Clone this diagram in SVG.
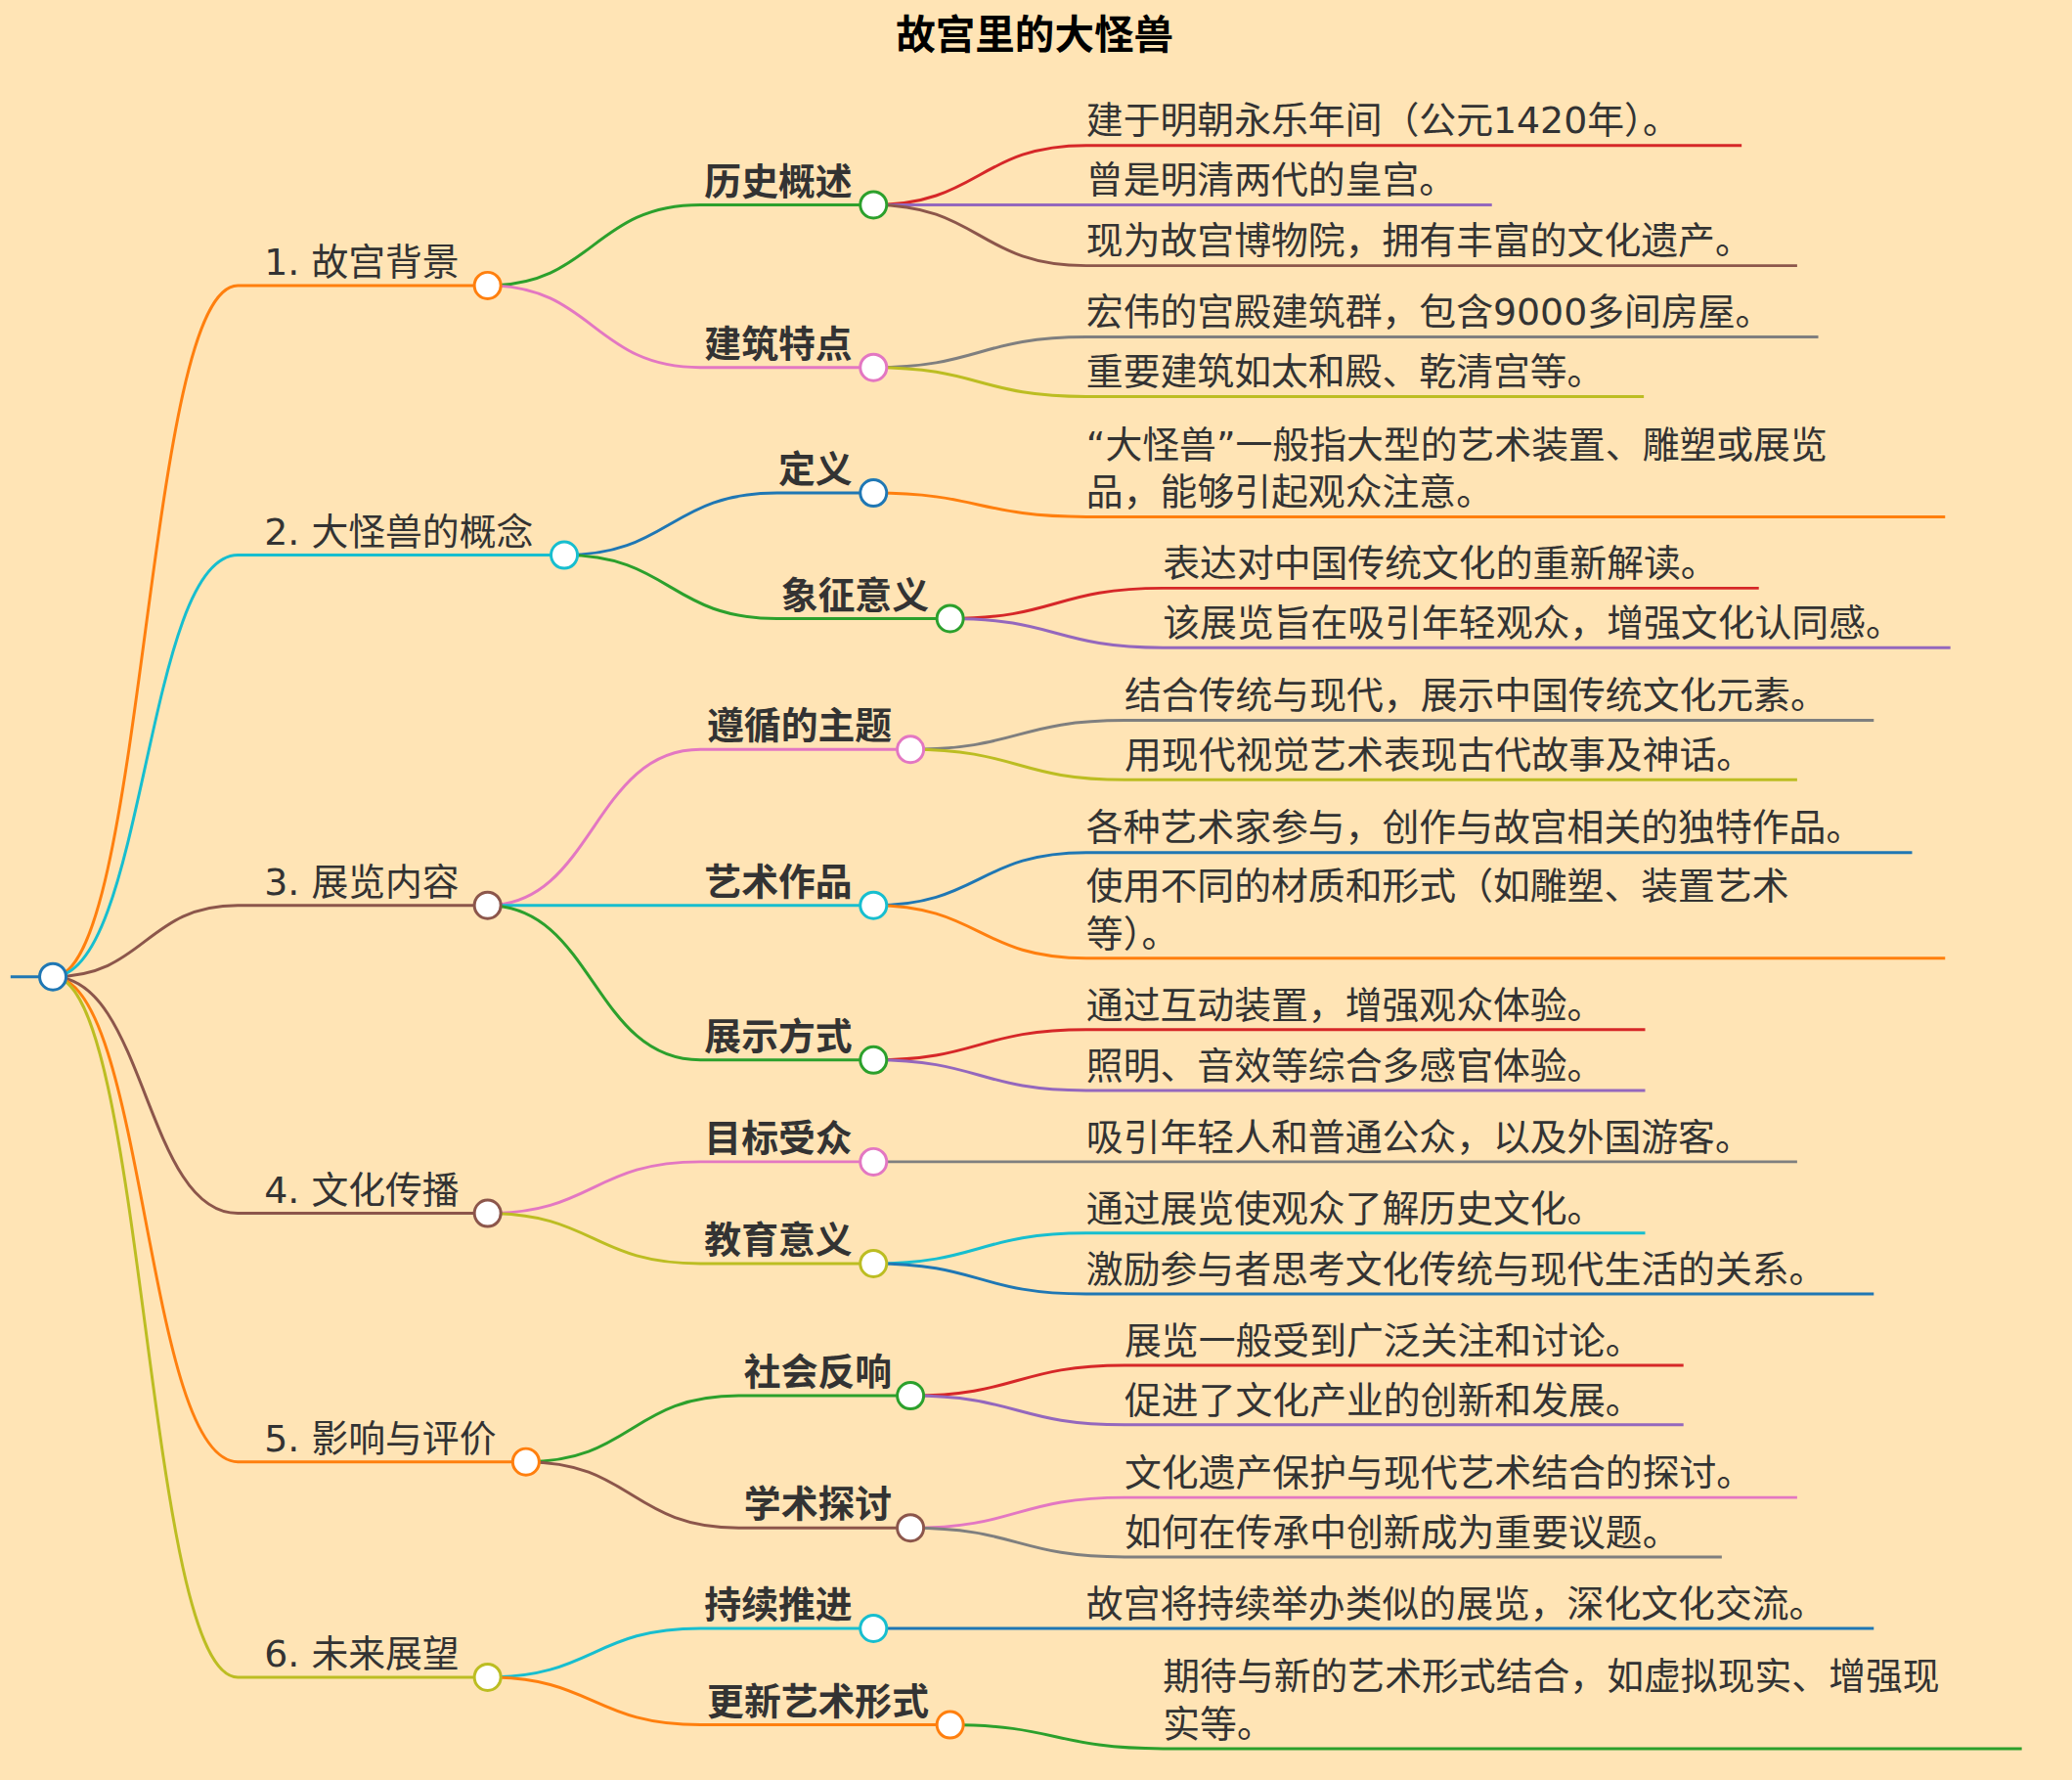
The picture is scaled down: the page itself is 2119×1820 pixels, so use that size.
<svg xmlns="http://www.w3.org/2000/svg" width="2119" height="1820" viewBox="0 0 2119 1820">
<style>
text{font-family:"DejaVu Sans","Noto Sans CJK SC",sans-serif;fill:#333;font-size:28px}
.t{font-weight:bold;font-size:30px;fill:#000}
.b{font-weight:bold}
path{fill:none;stroke-width:2.2}
circle{fill:#fff;stroke-width:2.2}
</style>
<rect width="2119" height="1820" fill="#ffe4b5"/>
<g transform="scale(1.3514)">
<text class="t" x="783" y="37" text-anchor="middle">故宫里的大怪兽</text>
<g id="connectors">
<path d="M8,739H40" stroke="#1f77b4"/>
<path d="M40,739C110,739 110,216 180,216H369" stroke="#ff7f0e"/>
<path d="M40,739C110,739 110,420 180,420H427" stroke="#17becf"/>
<path d="M40,739C110,739 110,685 180,685H369" stroke="#8c564b"/>
<path d="M40,739C110,739 110,918 180,918H369" stroke="#8c564b"/>
<path d="M40,739C110,739 110,1106 180,1106H398" stroke="#ff7f0e"/>
<path d="M40,739C110,739 110,1269 180,1269H369" stroke="#bcbd22"/>
<path d="M369,216C449,216 449,155 530,155H661" stroke="#2ca02c"/>
<path d="M369,216C449,216 449,278 530,278H661" stroke="#e377c2"/>
<path d="M427,420C507,420 507,373 588,373H661" stroke="#1f77b4"/>
<path d="M427,420C507,420 507,468 588,468H719" stroke="#2ca02c"/>
<path d="M369,685C449,685 449,567 530,567H689" stroke="#e377c2"/>
<path d="M369,685C449,685 449,685 530,685H661" stroke="#17becf"/>
<path d="M369,685C449,685 449,802 530,802H661" stroke="#2ca02c"/>
<path d="M369,918C449,918 449,879 530,879H661" stroke="#e377c2"/>
<path d="M369,918C449,918 449,956 530,956H661" stroke="#bcbd22"/>
<path d="M398,1106C478,1106 478,1056 559,1056H689" stroke="#2ca02c"/>
<path d="M398,1106C478,1106 478,1156 559,1156H689" stroke="#8c564b"/>
<path d="M369,1269C449,1269 449,1232 530,1232H661" stroke="#17becf"/>
<path d="M369,1269C449,1269 449,1305 530,1305H719" stroke="#ff7f0e"/>
<path d="M661,155C741,155 741,110 822,110H1318" stroke="#d62728"/>
<path d="M661,155H1129" stroke="#9467bd"/>
<path d="M661,155C741,155 741,201 822,201H1360" stroke="#8c564b"/>
<path d="M661,278C741,278 741,255 822,255H1376" stroke="#7f7f7f"/>
<path d="M661,278C741,278 741,300 822,300H1244" stroke="#bcbd22"/>
<path d="M661,373C741,373 741,391 822,391H1472" stroke="#ff7f0e"/>
<path d="M719,468C799,468 799,445 880,445H1331" stroke="#d62728"/>
<path d="M719,468C799,468 799,490 880,490H1476" stroke="#9467bd"/>
<path d="M689,567C770,567 770,545 851,545H1418" stroke="#7f7f7f"/>
<path d="M689,567C770,567 770,590 851,590H1360" stroke="#bcbd22"/>
<path d="M661,685C741,685 741,645 822,645H1447" stroke="#1f77b4"/>
<path d="M661,685C741,685 741,725 822,725H1472" stroke="#ff7f0e"/>
<path d="M661,802C741,802 741,779 822,779H1245" stroke="#d62728"/>
<path d="M661,802C741,802 741,825 822,825H1245" stroke="#9467bd"/>
<path d="M661,879H1360" stroke="#7f7f7f"/>
<path d="M661,956C741,956 741,933 822,933H1245" stroke="#17becf"/>
<path d="M661,956C741,956 741,979 822,979H1418" stroke="#1f77b4"/>
<path d="M689,1056C770,1056 770,1033 851,1033H1274" stroke="#d62728"/>
<path d="M689,1056C770,1056 770,1078 851,1078H1274" stroke="#9467bd"/>
<path d="M689,1156C770,1156 770,1133 851,1133H1360" stroke="#e377c2"/>
<path d="M689,1156C770,1156 770,1178 851,1178H1303" stroke="#7f7f7f"/>
<path d="M661,1232H1418" stroke="#1f77b4"/>
<path d="M719,1305C799,1305 799,1323 880,1323H1530" stroke="#2ca02c"/>
</g>
<g id="root"><circle cx="40" cy="739" r="10" stroke="#1f77b4"/></g>
<g id="n1"><text x="200" y="208">1. 故宫背景</text><circle cx="369" cy="216" r="10" stroke="#ff7f0e"/></g>
<g id="n2"><text x="200" y="412">2. 大怪兽的概念</text><circle cx="427" cy="420" r="10" stroke="#17becf"/></g>
<g id="n3"><text x="200" y="677">3. 展览内容</text><circle cx="369" cy="685" r="10" stroke="#8c564b"/></g>
<g id="n4"><text x="200" y="910">4. 文化传播</text><circle cx="369" cy="918" r="10" stroke="#8c564b"/></g>
<g id="n5"><text x="200" y="1098">5. 影响与评价</text><circle cx="398" cy="1106" r="10" stroke="#ff7f0e"/></g>
<g id="n6"><text x="200" y="1261">6. 未来展望</text><circle cx="369" cy="1269" r="10" stroke="#bcbd22"/></g>
<g id="n1a"><text class="b" x="645" y="147" text-anchor="end">历史概述</text><circle cx="661" cy="155" r="10" stroke="#2ca02c"/></g>
<g id="n1b"><text class="b" x="645" y="270" text-anchor="end">建筑特点</text><circle cx="661" cy="278" r="10" stroke="#e377c2"/></g>
<g id="n2a"><text class="b" x="645" y="365" text-anchor="end">定义</text><circle cx="661" cy="373" r="10" stroke="#1f77b4"/></g>
<g id="n2b"><text class="b" x="703" y="460" text-anchor="end">象征意义</text><circle cx="719" cy="468" r="10" stroke="#2ca02c"/></g>
<g id="n3a"><text class="b" x="675" y="559" text-anchor="end">遵循的主题</text><circle cx="689" cy="567" r="10" stroke="#e377c2"/></g>
<g id="n3b"><text class="b" x="645" y="677" text-anchor="end">艺术作品</text><circle cx="661" cy="685" r="10" stroke="#17becf"/></g>
<g id="n3c"><text class="b" x="645" y="794" text-anchor="end">展示方式</text><circle cx="661" cy="802" r="10" stroke="#2ca02c"/></g>
<g id="n4a"><text class="b" x="645" y="871" text-anchor="end">目标受众</text><circle cx="661" cy="879" r="10" stroke="#e377c2"/></g>
<g id="n4b"><text class="b" x="645" y="948" text-anchor="end">教育意义</text><circle cx="661" cy="956" r="10" stroke="#bcbd22"/></g>
<g id="n5a"><text class="b" x="675" y="1048" text-anchor="end">社会反响</text><circle cx="689" cy="1056" r="10" stroke="#2ca02c"/></g>
<g id="n5b"><text class="b" x="675" y="1148" text-anchor="end">学术探讨</text><circle cx="689" cy="1156" r="10" stroke="#8c564b"/></g>
<g id="n6a"><text class="b" x="645" y="1224" text-anchor="end">持续推进</text><circle cx="661" cy="1232" r="10" stroke="#17becf"/></g>
<g id="n6b"><text class="b" x="703" y="1297" text-anchor="end">更新艺术形式</text><circle cx="719" cy="1305" r="10" stroke="#ff7f0e"/></g>
<g id="leaves">
<text x="822" y="101">建于明朝永乐年间（公元1420年）。</text>
<text x="822" y="146">曾是明清两代的皇宫。</text>
<text x="822" y="192">现为故宫博物院，拥有丰富的文化遗产。</text>
<text x="822" y="246">宏伟的宫殿建筑群，包含9000多间房屋。</text>
<text x="822" y="291">重要建筑如太和殿、乾清宫等。</text>
<text x="822" y="346">“大怪兽”一般指大型的艺术装置、雕塑或展览</text>
<text x="822" y="382">品，能够引起观众注意。</text>
<text x="880" y="436">表达对中国传统文化的重新解读。</text>
<text x="880" y="481">该展览旨在吸引年轻观众，增强文化认同感。</text>
<text x="851" y="536">结合传统与现代，展示中国传统文化元素。</text>
<text x="851" y="581">用现代视觉艺术表现古代故事及神话。</text>
<text x="822" y="636">各种艺术家参与，创作与故宫相关的独特作品。</text>
<text x="822" y="680">使用不同的材质和形式（如雕塑、装置艺术</text>
<text x="822" y="716">等）。</text>
<text x="822" y="770">通过互动装置，增强观众体验。</text>
<text x="822" y="816">照明、音效等综合多感官体验。</text>
<text x="822" y="870">吸引年轻人和普通公众，以及外国游客。</text>
<text x="822" y="924">通过展览使观众了解历史文化。</text>
<text x="822" y="970">激励参与者思考文化传统与现代生活的关系。</text>
<text x="851" y="1024">展览一般受到广泛关注和讨论。</text>
<text x="851" y="1069">促进了文化产业的创新和发展。</text>
<text x="851" y="1124">文化遗产保护与现代艺术结合的探讨。</text>
<text x="851" y="1169">如何在传承中创新成为重要议题。</text>
<text x="822" y="1223">故宫将持续举办类似的展览，深化文化交流。</text>
<text x="880" y="1278">期待与新的艺术形式结合，如虚拟现实、增强现</text>
<text x="880" y="1314">实等。</text>
</g>
</g>
</svg>
